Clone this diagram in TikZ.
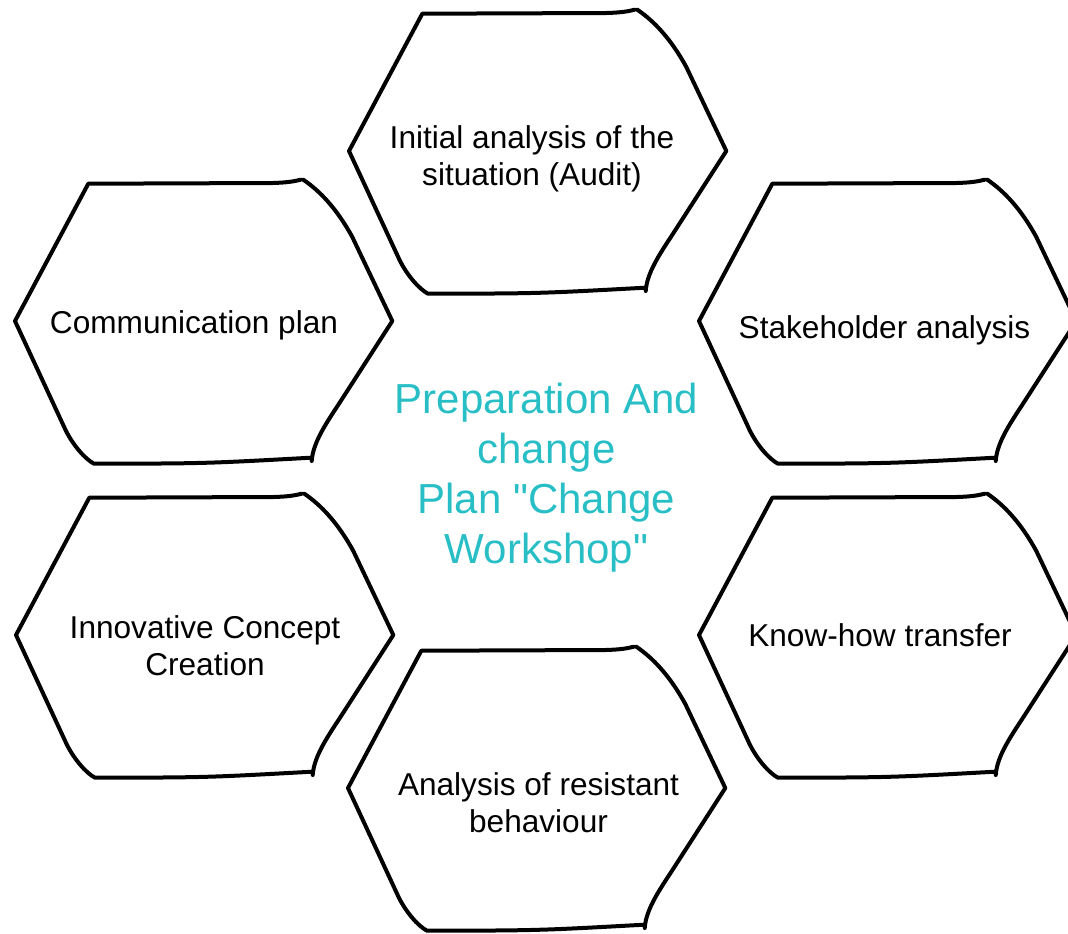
\documentclass[tikz,border=0pt]{standalone}
\usepackage{fontspec}
\setmainfont{Liberation Sans}
\definecolor{lagoon}{RGB}{40,190,198}

% one sketchy hexagon, placed by its left corner
\newcommand{\sketchhex}[2]{%
  \draw[shift={(#1,#2)}] (295.7,136.7) .. controls (190,142.5) .. (79,142.7)
    .. controls (70,138) and (58,124) .. (50.7,109.3) -- (0,0) -- (73.3,-137.3)
    -- (257.3,-138) .. controls (275,-138.5) and (280,-140) .. (285.7,-141.3);
  \draw[shift={(#1,#2)}] (288.3,-141.3) .. controls (305,-130) and (322,-112) .. (337.3,-84)
    -- (377.3,0) -- (324,82.7) .. controls (310,104) and (298,122) .. (296.7,140);
}
\tikzset{
  cell/.style={font=\fontsize{15.8}{18.5}\selectfont,align=center,anchor=base,inner sep=0pt},
  hub/.style={font=\fontsize{21}{25}\selectfont,text=lagoon,align=center,anchor=base,inner sep=0pt}
}

\begin{document}
\begin{tikzpicture}[x=0.5pt,y=-0.5pt,line width=2pt,line cap=round,line join=round]
  \useasboundingbox (0,0) rectangle (1068,933);
  \clip (0,0) rectangle (1068,933);
  \sketchhex{349}{151}
  \sketchhex{15}{321}
  \sketchhex{699}{321}
  \sketchhex{16}{635}
  \sketchhex{699}{635}
  \sketchhex{348}{788}
  % base anchor sits on the last line
  \node[cell] (audit) at (532,185) {Initial analysis of the\\situation (Audit)};
  \node[cell] (comm) at (194,333) {Communication plan};
  \node[cell] (stake) at (884.5,338) {Stakeholder analysis};
  \node[cell] (innov) at (205,675) {Innovative Concept\\Creation};
  \node[cell] (knowhow) at (880,646) {Know-how transfer};
  \node[cell] (resist) at (538.5,832) {Analysis of resistant\\behaviour};
  \node[hub] (workshop) at (546.5,563) {Preparation And\\change\\Plan \textquotedbl Change\\Workshop\textquotedbl};
\end{tikzpicture}
\end{document}
